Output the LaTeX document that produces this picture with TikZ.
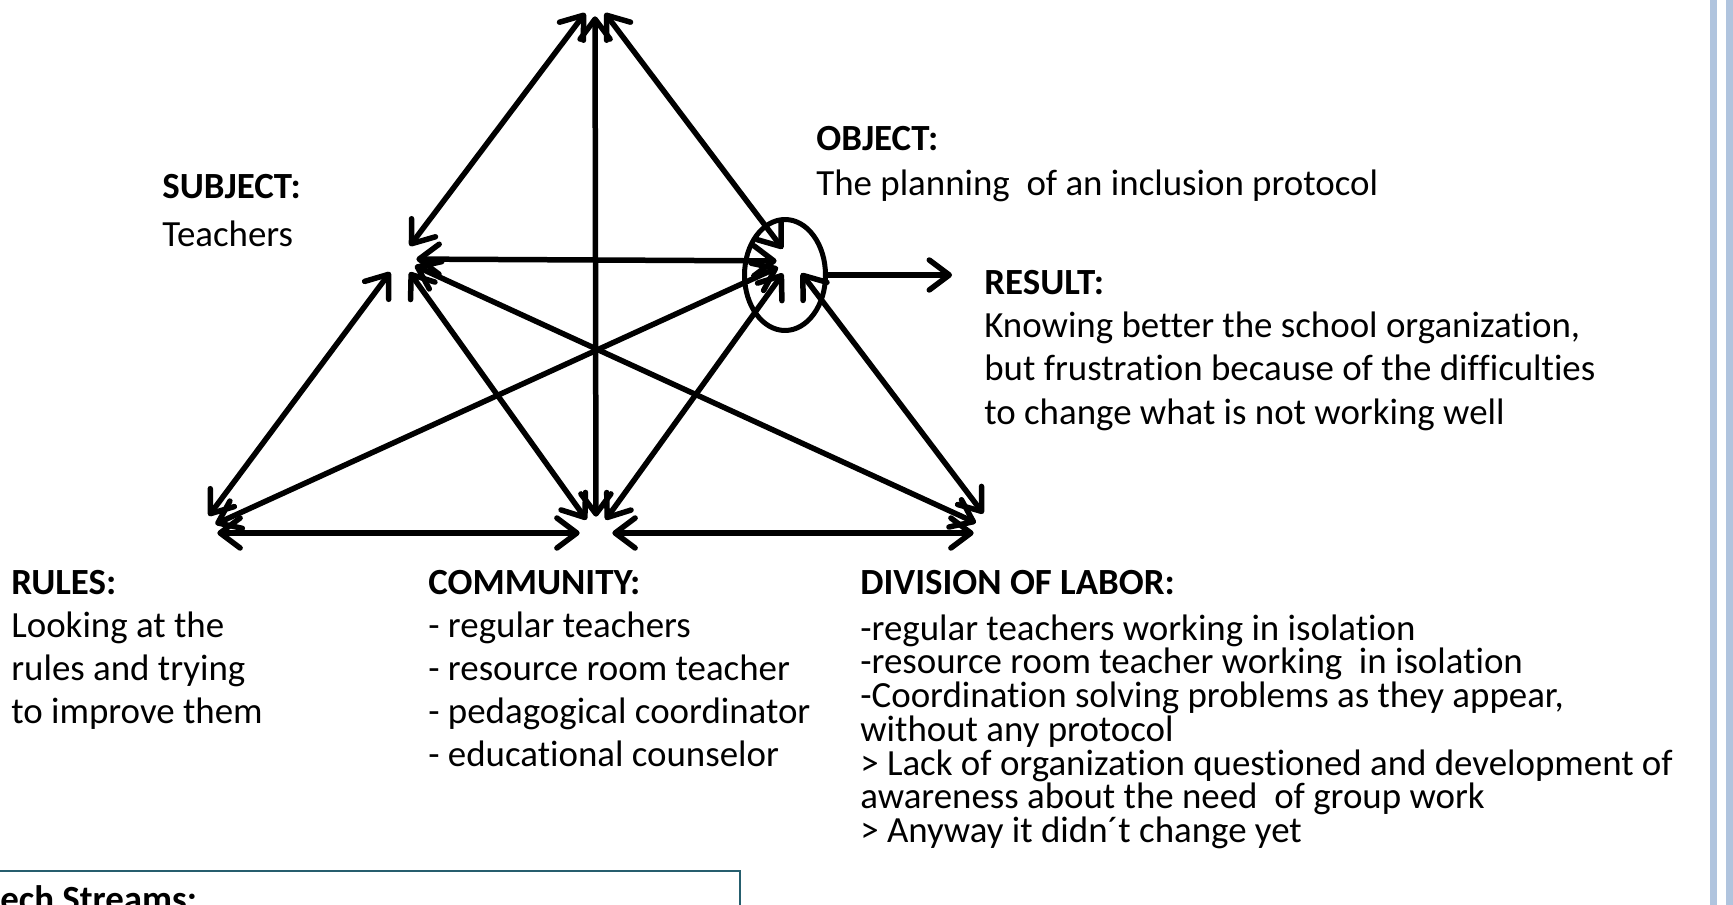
\documentclass[tikz,border=0pt]{standalone}
\usepackage{fontspec}
\setmainfont{Carlito}[Ligatures={NoCommon,NoContextual}]
\usetikzlibrary{arrows.meta,shapes.geometric}
\definecolor{barblue}{RGB}{176,196,222}
\definecolor{boxteal}{RGB}{38,94,110}

\begin{document}
\begin{tikzpicture}[x=0.02cm,y=-0.02cm,
    hub/.style={circle,inner sep=0pt,minimum size=#1},
    tie/.style={line width=0.11cm,line cap=round,{Straight Barb[length=0.4cm,width=0.6cm,round]}-{Straight Barb[length=0.4cm,width=0.6cm,round]}},
    outflow/.style={line width=0.11cm,line cap=round,-{Straight Barb[length=0.4cm,width=0.6cm,round]}},
    blurb/.style={anchor=north west,inner sep=0pt,align=left,font=\fontsize{21pt}{#1}\selectfont}]
    \useasboundingbox (0,0) rectangle (1733,905);
    \clip (0,0) rectangle (1733,905);
    \fill[barblue] (1710,0) rectangle (1717,905);
    \fill[barblue] (1726,0) rectangle (1733,905);

    \node[hub=0.64cm] (apex) at (595,0) {};
    \node[hub=0.64cm] (subj) at (400,259) {};
    \node[hub=0.6cm] (obj) at (792,261) {};
    \node[hub=0.84cm] (rules) at (196,533) {};
    \node[hub=0.64cm] (comm) at (596,533) {};
    \node[hub=0.96cm] (div) at (998,533) {};
    \node[draw,ellipse,line width=0.1cm,inner sep=0pt,minimum width=1.62cm,minimum height=2.22cm] (ring) at (785,275) {};
    \coordinate (res) at (952,275);

    \draw[tie] (apex) -- (subj);
    \draw[tie] (apex) -- (comm);
    \draw[tie] (apex) -- (obj);
    \draw[tie] (subj) -- (obj);
    \draw[tie] (subj) -- (rules);
    \draw[tie] (subj) -- (comm);
    \draw[tie] (subj) -- (div);
    \draw[tie] (obj) -- (rules);
    \draw[tie] (obj) -- (comm);
    \draw[tie] (obj) -- (div);
    \draw[tie] (rules) -- (comm);
    \draw[tie] (comm) -- (div);
    \draw[outflow] (ring) -- (res);

    \node[blurb=27.5pt] (subjtext) at (162,174) {\textbf{SUBJECT:}\\Teachers};
    \node[blurb=25.8pt] (objtext) at (816,126) {\textbf{OBJECT:}\\The planning \ of an inclusion protocol};
    \node[blurb=24.6pt] (restext) at (984,270) {\textbf{RESULT:}\\Knowing better the school organization,\\but frustration because of the difficulties\\to change what is not working well};
    \node[blurb=24.5pt] (rulestext) at (11,570) {\textbf{RULES:}\\Looking at the\\rules and trying\\to improve them};
    \node[blurb=24.5pt] (commtext) at (428,570) {\textbf{COMMUNITY:}\\- regular teachers\\- resource room teacher\\- pedagogical coordinator\\- educational counselor};
    \node[blurb=19.2pt] (divtext) at (860,570) {\textbf{DIVISION OF LABOR:}\\[6.8pt]-regular teachers working in isolation\\-resource room teacher working \ in isolation\\-Coordination solving problems as they appear,\\without any protocol\\> Lack of organization questioned and development of\\awareness about the need \ of group work\\> Anyway it didn´t change yet};

    \draw[boxteal,line width=0.05cm] (-5,871) rectangle (740,960);
    \node[anchor=base west,inner sep=0pt,font=\fontsize{21pt}{21pt}\selectfont\bfseries] (streams) at (0,911) {ech Streams:};
\end{tikzpicture}
\end{document}
